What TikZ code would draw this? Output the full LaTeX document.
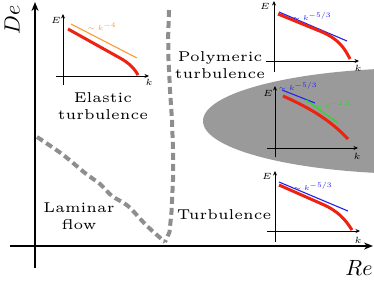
\documentclass[tikz,border=0pt]{standalone}
\usetikzlibrary{arrows.meta}
\definecolor{regiongray}{HTML}{9A9A9A}
\definecolor{dashgray}{HTML}{8E8E8E}
\definecolor{specred}{HTML}{EE2211}
\definecolor{specorange}{HTML}{FF9930}
\definecolor{specblue}{HTML}{2222EE}
\definecolor{specgreen}{HTML}{22DD22}
\tikzset{
  mainaxis/.style={line width=1.6pt,-{Stealth[length=9pt,width=7pt]}},
  insetaxis/.style={line width=0.8pt,-{Stealth[length=4.5pt,width=4pt]}},
  boundary/.style={dashgray,line width=4pt,dash pattern=on 7pt off 4pt},
  spec/.style={specred,line width=3pt},
  slope/.style={line width=1.1pt},
  regime/.style={scale=2.85,font=\fontsize{5}{6}\selectfont,align=center,inner sep=0pt},
  axlabel/.style={scale=2.2,font=\fontsize{10}{12}\selectfont,inner sep=0pt},
  smalllabel/.style={scale=1.8,font=\fontsize{5}{6}\selectfont,inner sep=0pt},
  tinylabel/.style={scale=1.4,font=\fontsize{5}{6}\selectfont,inner sep=0pt},
}
\begin{document}
\begin{tikzpicture}[x=1pt,y=-1pt]
\useasboundingbox (0,0) rectangle (374,282);
\begin{scope}
\clip (0,0) rectangle (374,282);
\fill[regiongray] (420,121) ellipse [x radius=217pt, y radius=53pt];
\end{scope}
% boundaries
\coordinate (lamstart) at (37,137);
\coordinate (vertex) at (165,242);
\coordinate (vtop) at (169,10);
\draw[boundary] plot[smooth,tension=0.5] coordinates {(37,137) (62,154) (85,173) (100,184) (112,196) (128,206) (147,226) (165,242)};
\draw[boundary] (vtop) -- (168.2,35) -- (168.5,60) -- (170,90) -- (172,120) -- (173,150) -- (173,180) -- (171.5,212) -- (169.5,232) -- (vertex);
% main axes
\coordinate (vb) at (35,268);
\coordinate (vt) at (35,2);
\coordinate (hl) at (10,246);
\coordinate (hr) at (373,246);
\draw[mainaxis] (vb) -- (vt);
\draw[mainaxis] (hl) -- (hr);
\node[axlabel,rotate=90] (de) at (12,20) {$De$};
\node[axlabel] (re) at (359,268) {$Re$};
% regime labels
\node[regime] (elastic) at (103,106) {Elastic\\turbulence};
\node[regime] (poly) at (220,65) {Polymeric\\turbulence};
\node[regime] (turb) at (224,215) {Turbulence};
\node[regime] (lam) at (79,216) {Laminar\\flow};
% inset 1: elastic
\coordinate (a1b) at (63,85); \coordinate (a1t) at (63,14);
\coordinate (a1l) at (56,76); \coordinate (a1r) at (149,76);
\draw[insetaxis] (a1b) -- (a1t);
\draw[insetaxis] (a1l) -- (a1r);
\node[smalllabel] (e1) at (56,20) {$E$};
\node[smalllabel] (k1) at (149,82) {$k$};
\draw[specorange,slope] (71,24) -- (137,58);
\node[tinylabel,text=specorange] (s1) at (102,27) {$\sim k^{-4}$};
\draw[spec] (68,29) -- (120,58) .. controls (129,63) and (134,68) .. (138,75);
% inset 2: polymeric
\coordinate (a2b) at (274,72); \coordinate (a2t) at (274,1);
\coordinate (a2l) at (266,61); \coordinate (a2r) at (359,61);
\draw[insetaxis] (a2b) -- (a2t);
\draw[insetaxis] (a2l) -- (a2r);
\node[smalllabel] (e2) at (265,6) {$E$};
\node[smalllabel] (k2) at (358,68) {$k$};
\draw[specblue,slope] (279,12) -- (347,41);
\node[tinylabel,text=specblue] (s2) at (312,16) {$\sim k^{-5/3}$};
\draw[spec] (278,14) -- (322,32) .. controls (338,39) and (344,47) .. (350,59);
% inset 3: in gray region
\coordinate (a3b) at (275,157); \coordinate (a3t) at (275,86);
\coordinate (a3l) at (267,148); \coordinate (a3r) at (358,148);
\draw[insetaxis] (a3b) -- (a3t);
\draw[insetaxis] (a3l) -- (a3r);
\node[smalllabel] (e3) at (268,93) {$E$};
\node[smalllabel] (k3) at (357,156) {$k$};
\draw[specblue,slope] (282,90) -- (315,103);
\node[tinylabel,text=specblue] (s3) at (298,86) {$\sim k^{-5/3}$};
\draw[specgreen,slope] (306,100) -- (338,123);
\node[tinylabel,text=specgreen] (s4) at (333,105) {$\sim k^{-2.3}$};
\draw[spec] (283,96) .. controls (310,108) and (330,120) .. (348,139);
% inset 4: turbulence
\coordinate (a4b) at (275,242); \coordinate (a4t) at (275,171);
\coordinate (a4l) at (267,231); \coordinate (a4r) at (360,231);
\draw[insetaxis] (a4b) -- (a4t);
\draw[insetaxis] (a4l) -- (a4r);
\node[smalllabel] (e4) at (267,176) {$E$};
\node[smalllabel] (k4) at (358,240) {$k$};
\draw[specblue,slope] (279,182) -- (348,211);
\node[tinylabel,text=specblue] (s5) at (313,186) {$\sim k^{-5/3}$};
\draw[spec] (279,185) -- (322,204) .. controls (338,211) and (345,219) .. (352,230);
\end{tikzpicture}
\end{document}
